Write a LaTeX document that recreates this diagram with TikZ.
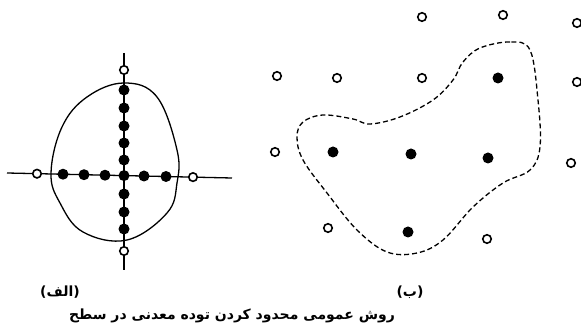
\documentclass[tikz,border=0pt]{standalone}
\usepackage{fontspec}
\newfontfamily\arabicfont[Script=Arabic]{DejaVu Sans}
\TeXXeTstate=1

\tikzset{
  fulldot/.style={circle,fill=black,inner sep=0pt,minimum size=11pt},
  opendot/.style={circle,draw=black,fill=white,line width=1.6pt,inner sep=0pt,minimum size=8.5pt},
  farsi/.style={font=\arabicfont\bfseries\fontsize{14}{16}\selectfont,inner sep=0pt}
}

\begin{document}
\begin{tikzpicture}[x=1pt,y=-1pt]
\useasboundingbox (0,0) rectangle (581,336);
% (a) cross of drill lines
\coordinate (vtop) at (124,53);
\coordinate (vbot) at (124,270);
\coordinate (hleft) at (7,173);
\coordinate (hright) at (232,178);
\draw[line width=1.3pt] (vtop) -- (vbot);
\draw[line width=1.3pt] (hleft) -- (hright);
\draw[line width=1.3pt] plot[smooth cycle,tension=0.65] coordinates {
  (124,83) (157,97) (177,150) (177,183) (167,213) (127,240)
  (83,232) (60,203) (51,173) (62,127) (87,97)};
\node[opendot] (ntop) at (124,70) {};
\node[opendot] (nbot) at (124,251) {};
\node[opendot] (nleft) at (37,173.7) {};
\node[opendot] (nright) at (193,177.1) {};
\foreach \y [count=\i] in {90,108,126,143,160,175.6,194,212,229}
  \node[fulldot] (v\i) at (124,\y) {};
\foreach \x/\y [count=\i] in {63/174.2,84/174.7,105/175.2,144/176,166/176.5}
  \node[fulldot] (h\i) at (\x,\y) {};
% (b) scattered holes
\draw[line width=1.3pt,dash pattern=on 5pt off 3pt] plot[smooth cycle,tension=0.6] coordinates {
  (530,50) (510,42) (480,48) (463,62) (453,80) (433,100) (400,117)
  (370,124) (353,119) (323,115) (303,122) (297,137) (303,160) (327,193)
  (357,230) (387,252) (417,253) (443,240) (473,207) (503,183) (530,170)
  (540,147) (538,100)};
\foreach \x/\y [count=\i] in {422/17,503/15,577/23,277/76,337/78,422/78,577/82,
  275/152,571/163,328/228,487/239}
  \node[opendot] (b\i) at (\x,\y) {};
\foreach \x/\y [count=\i] in {498/78,333/152,411/154,488/158,408/232}
  \node[fulldot] (f\i) at (\x,\y) {};
% captions
\node[farsi] (capa) at (60,292) {\beginR (الف)\endR};
\node[farsi] (capb) at (410,292) {\beginR (ب)\endR};
\node[farsi] (title) at (232,316) {\beginR روش عمومی محدود کردن توده معدنی در سطح\endR};
\end{tikzpicture}
\end{document}
